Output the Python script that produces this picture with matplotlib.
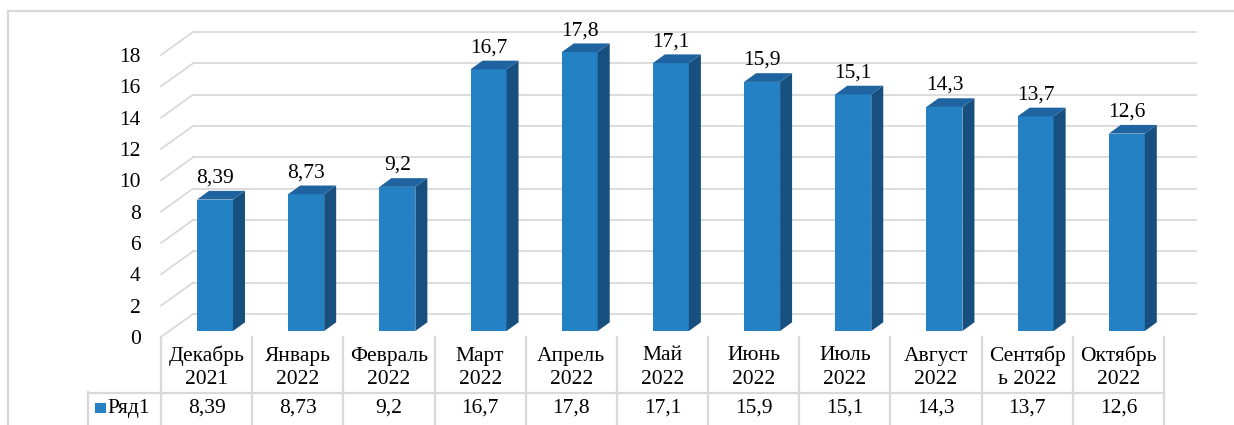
import matplotlib
matplotlib.use("Agg")
import matplotlib.pyplot as plt
from matplotlib.patches import Polygon, Rectangle
from matplotlib.lines import Line2D
from matplotlib.transforms import blended_transform_factory

categories = ["Декабрь\n2021", "Январь\n2022", "Февраль\n2022", "Март\n2022",
              "Апрель\n2022", "Май\n2022", "Июнь\n2022", "Июль\n2022",
              "Август\n2022", "Сентябр\nь 2022", "Октябрь\n2022"]
values = [8.39, 8.73, 9.2, 16.7, 17.8, 17.1, 15.9, 15.1, 14.3, 13.7, 12.6]
value_labels = ["8,39", "8,73", "9,2", "16,7", "17,8", "17,1", "15,9", "15,1", "14,3", "13,7", "12,6"]
series_name = "Ряд1"
yticks = [0, 2, 4, 6, 8, 10, 12, 14, 16, 18]

W, H = 1234, 425
DPI = 100
FS = 15.5
FONT = "Liberation Serif"
plt.rcParams['font.family'] = [FONT, 'DejaVu Serif']

fig = plt.figure(figsize=(W / DPI, H / DPI), dpi=DPI)
fig.patch.set_facecolor("white")

# front plane of the plot in pixels
x0, x1 = 161, 1164
yb, yt = 337, 55
ax = fig.add_axes([x0 / W, 1 - yb / H, (x1 - x0) / W, (yb - yt) / H])
n = len(values)
ax.set_xlim(-0.5, n - 0.5)
ax.set_ylim(0, 18)
ax.patch.set_visible(False)
for s in ax.spines.values():
    s.set_visible(False)
ax.set_xticks([])
ax.set_yticks(yticks)
ax.set_yticklabels([str(t) for t in yticks], fontsize=FS)
ax.tick_params(axis='y', length=0, pad=14.5)

xpx = (x1 - x0) / n
ypx = (yb - yt) / 18.0

def du(px, py):
    return px / xpx, py / ypx

grid_c = "#d9d9d9"
wdx, wdy = du(32, 23)
for t in yticks:
    ax.plot([-0.5, -0.5 + wdx], [t, t + wdy], color=grid_c, lw=1.3, zorder=1, clip_on=False)
    ax.plot([-0.5 + wdx, n - 0.5 + wdx], [t + wdy, t + wdy], color=grid_c, lw=1.3, zorder=1, clip_on=False)

front_c = "#2481c3"
top_c = "#1f64a0"
side_c = "#174f7e"
bw = 36 / xpx
fdx, fdy = du(8.4, 6.0)
bdx, bdy = du(20.4, 14.7)
for i, v in enumerate(values):
    xl = i + fdx - bw / 2
    xr = xl + bw
    ax.add_patch(Rectangle((xl, fdy), bw, v, facecolor=front_c, edgecolor="none", zorder=3, clip_on=False))
    side = [(xr, fdy), (xr, v + fdy), (xr + bdx - fdx, v + bdy), (xr + bdx - fdx, bdy)]
    ax.add_patch(Polygon(side, closed=True, facecolor=side_c, edgecolor="none", zorder=3, clip_on=False))
    top = [(xl, v + fdy), (xr, v + fdy), (xr + bdx - fdx, v + bdy), (xl + bdx - fdx, v + bdy)]
    ax.add_patch(Polygon(top, closed=True, facecolor=top_c, edgecolor="none", zorder=3, clip_on=False))
    ax.text(i + fdx, v + fdy + 17 / ypx, value_labels[i], ha="center", va="baseline",
            fontsize=FS, zorder=4, clip_on=False)

# data table
tr = blended_transform_factory(ax.transData, fig.transFigure)
def fy(py):
    return 1 - py / H
line_kw = dict(color=grid_c, lw=1.6, zorder=2)
for k in range(n + 1):
    xb = k - 0.5
    fig.add_artist(Line2D([xb, xb], [fy(337), fy(H + 5)], transform=tr, **line_kw))
fig.add_artist(Line2D([88 / W, 1.0 * 0 + 88 / W], [fy(392), fy(H + 5)], transform=fig.transFigure, **line_kw))
# horizontal separator from legend cell left edge to table right edge
x_leg = ax.transData.inverted().transform((88, 0))[0]
fig.add_artist(Line2D([x_leg, n - 0.5], [fy(392.5), fy(392.5)], transform=tr, **line_kw))

for i, c in enumerate(categories):
    l1, l2 = c.split("\n")
    fig.text(i, fy(356), l1, transform=tr, ha="center", va="center", fontsize=FS)
    fig.text(i, fy(380), l2, transform=tr, ha="center", va="center", fontsize=FS)
    fig.text(i, fy(408), value_labels[i], transform=tr, ha="center", va="center", fontsize=FS)

# legend key
fig.add_artist(Rectangle((95 / W, fy(413)), 11 / W, 10 / H, transform=fig.transFigure,
                         facecolor=front_c, edgecolor="none"))
fig.text(107 / W, fy(408), series_name, ha="left", va="center", fontsize=FS)

# outer frame
fig.add_artist(Line2D([8 / W, 1.0], [fy(11), fy(11)], transform=fig.transFigure, color=grid_c, lw=1.6))
fig.add_artist(Line2D([8 / W, 8 / W], [fy(11), 0], transform=fig.transFigure, color=grid_c, lw=1.6))

fig.savefig("out.png", dpi=DPI)
